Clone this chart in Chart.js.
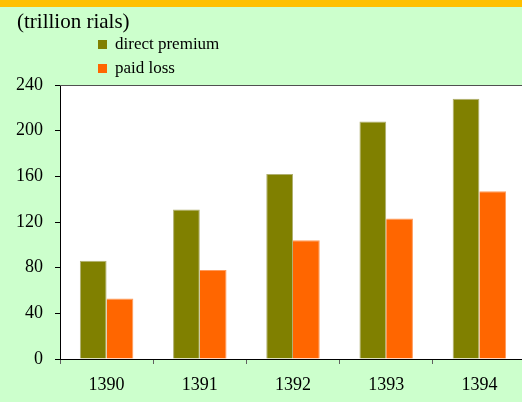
<!DOCTYPE html>
<html>
<head>
<meta charset="utf-8">
<script src="https://cdn.jsdelivr.net/npm/chart.js@4/dist/chart.umd.min.js"></script>
<style>
  html, body { margin: 0; padding: 0; width: 522px; height: 402px; overflow: hidden; background: #CCFFCC; }
  #strip { height: 7px; background: #FFC000; }
  canvas { display: block; }
</style>
</head>
<body>
<div id="strip"></div>
<canvas id="chart" width="527" height="395"></canvas>
<script>
const years = ['1390', '1391', '1392', '1393', '1394'];
const directPremium = [86, 131, 162, 208, 228];
const paidLoss = [53, 78, 104, 123, 147];
const yTicks = [0, 40, 80, 120, 160, 200, 240];
const unitLabel = '(trillion rials)';

const serif = "'Liberation Serif', 'DejaVu Serif', serif";

/* white plot area, top border, unit label and a vertical legend */
const decor = {
  id: 'decor',
  beforeDraw(chart) {
    const { ctx, chartArea: a } = chart;
    ctx.save();
    ctx.fillStyle = '#ffffff';
    ctx.fillRect(a.left, a.top, a.right - a.left, a.bottom - a.top);
    ctx.restore();
  },
  afterDraw(chart) {
    const { ctx, chartArea: a } = chart;
    ctx.save();
    ctx.strokeStyle = '#505050';
    ctx.lineWidth = 1;
    ctx.beginPath();
    ctx.moveTo(a.left, a.top + 0.5);
    ctx.lineTo(chart.width, a.top + 0.5);
    ctx.stroke();

    ctx.fillStyle = '#000';
    ctx.textBaseline = 'alphabetic';
    ctx.font = '21px ' + serif;
    ctx.fillText(unitLabel, 17, 21);

    ctx.font = '17px ' + serif;
    chart.data.datasets.forEach((ds, i) => {
      const y = 33 + i * 24;
      ctx.fillStyle = ds.backgroundColor;
      ctx.fillRect(98, y, 9, 9);
      ctx.fillStyle = '#000';
      ctx.fillText(ds.label, 115, y + 9);
    });
    ctx.restore();
  }
};

new Chart(document.getElementById('chart'), {
  type: 'bar',
  data: {
    labels: years,
    datasets: [
      {
        label: 'direct premium',
        data: directPremium,
        backgroundColor: '#808000',
        borderColor: '#B0B070',
        borderWidth: { top: 1, right: 1, left: 1 },
        borderSkipped: 'bottom'
      },
      {
        label: 'paid loss',
        data: paidLoss,
        backgroundColor: '#FF6600',
        borderColor: '#FF9A5A',
        borderWidth: { top: 1, right: 1, left: 0 },
        borderSkipped: 'bottom'
      }
    ]
  },
  options: {
    responsive: false,
    animation: false,
    devicePixelRatio: 1,
    layout: { padding: { top: 78, left: 0, right: 1, bottom: 0 } },
    datasets: { bar: { barPercentage: 1, categoryPercentage: 0.574 } },
    plugins: {
      legend: { display: false },
      title: { display: false },
      tooltip: { enabled: false }
    },
    scales: {
      x: {
        afterFit(scale) { scale.height = 43; },
        border: { color: '#000', width: 1 },
        grid: { offset: true, drawOnChartArea: false, drawTicks: true, tickLength: 5, color: '#606060' },
        ticks: { color: '#000', font: { family: serif, size: 18 }, padding: 10 }
      },
      y: {
        min: 0,
        max: 240,
        afterFit(scale) { scale.width = 60; },
        afterBuildTicks(scale) { scale.ticks = yTicks.map(v => ({ value: v })); },
        border: { color: '#000', width: 1 },
        grid: { drawOnChartArea: false, drawTicks: true, tickLength: 5, color: '#000' },
        ticks: { color: '#000', font: { family: serif, size: 18 }, padding: 12 }
      }
    }
  },
  plugins: [decor]
});
</script>
</body>
</html>
